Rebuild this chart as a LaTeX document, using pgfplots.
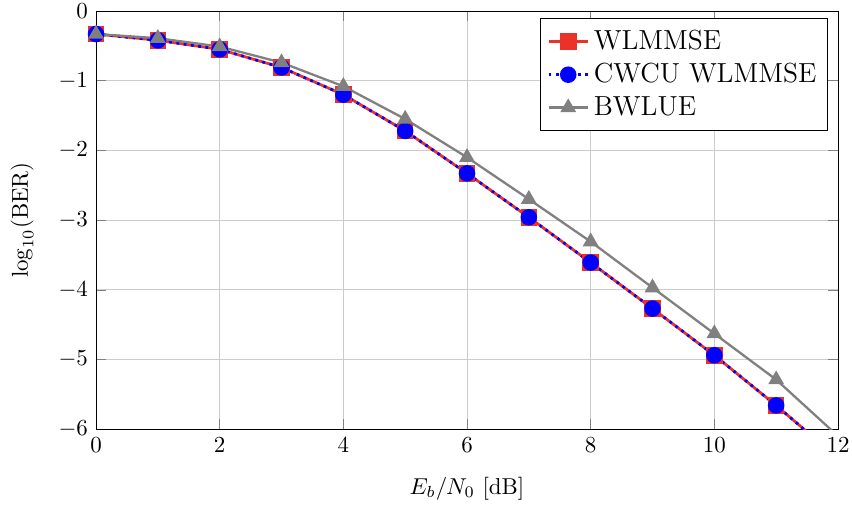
\documentclass[border=0pt]{standalone}
\usepackage{pgfplots}
\pgfplotsset{compat=1.18}
\definecolor{myred}{RGB}{235,50,40}
\begin{document}
\begin{tikzpicture}
\begin{axis}[
  name=ax,
  scale only axis,
  width=323pt, height=182pt,
  xmin=0, xmax=12, ymin=-6, ymax=0,
  xtick={0,2,4,6,8,10,12},
  ytick={-6,-5,-4,-3,-2,-1,0},
  grid=major,
  major grid style={gray!40},
  xlabel={$E_b/N_0$ [dB]},
  ylabel={$\log_{10}(\mathrm{BER})$},
  ylabel style={yshift=4pt},
  xlabel style={yshift=-4pt},
  legend style={at={(0.987,0.983)}, anchor=north east, font=\large, cells={anchor=west}, inner sep=3pt, row sep=0.5pt},
  clip=true,
]
\addplot[myred, line width=1.2pt, mark=square*, mark size=3pt, mark options={solid, fill=myred}] coordinates {
(0,-0.33) (1,-0.42) (2,-0.55) (3,-0.81) (4,-1.20) (5,-1.72) (6,-2.33) (7,-2.96) (8,-3.61) (9,-4.27) (10,-4.94) (11,-5.66) (12,-6.42)
};
\addlegendentry{WLMMSE}
\addplot[blue, line width=1.2pt, dotted, mark=*, mark size=3pt, mark options={solid, fill=blue}] coordinates {
(0,-0.33) (1,-0.42) (2,-0.55) (3,-0.81) (4,-1.20) (5,-1.72) (6,-2.33) (7,-2.96) (8,-3.61) (9,-4.27) (10,-4.94) (11,-5.66) (12,-6.42)
};
\addlegendentry{CWCU WLMMSE}
\addplot[gray, line width=1pt, mark=triangle*, mark size=3pt, mark options={solid, fill=gray}] coordinates {
(0,-0.33) (1,-0.39) (2,-0.51) (3,-0.74) (4,-1.08) (5,-1.55) (6,-2.10) (7,-2.70) (8,-3.31) (9,-3.97) (10,-4.63) (11,-5.29) (12,-6.10)
};
\addlegendentry{BWLUE}
\end{axis}
\pgfresetboundingbox
\useasboundingbox ([shift={(-41.8pt,-33.1pt)}]ax.south west) rectangle ([shift={(6.1pt,4.8pt)}]ax.north east);
\end{tikzpicture}
\end{document}
